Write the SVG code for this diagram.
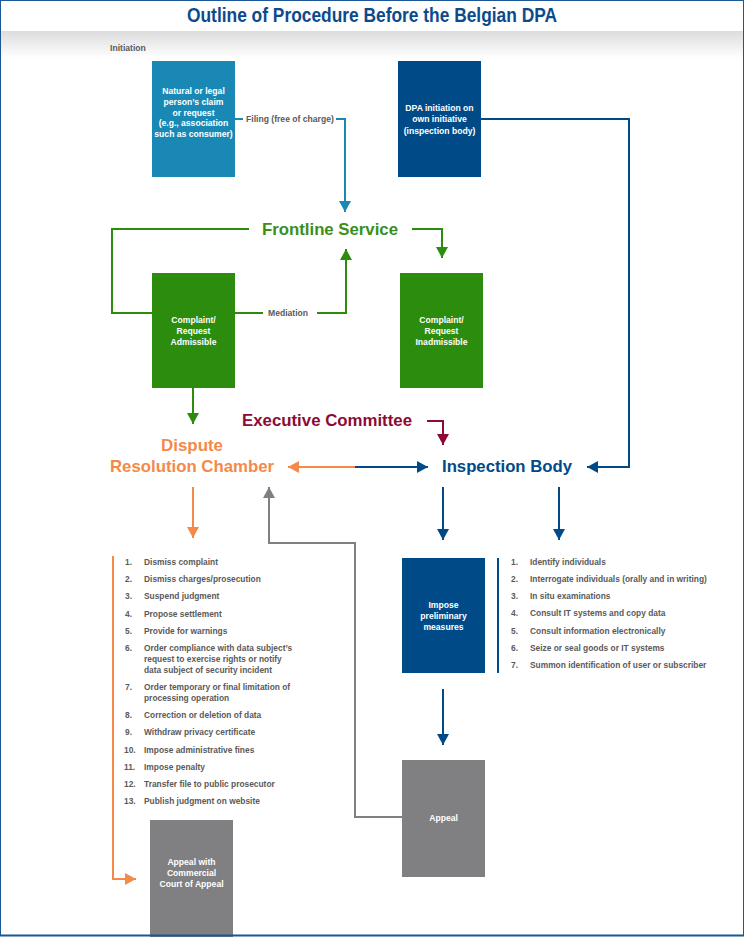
<svg xmlns="http://www.w3.org/2000/svg" width="744" height="937" viewBox="0 0 744 937">
<defs>
<linearGradient id="shadow" x1="0" y1="0" x2="0" y2="1">
<stop offset="0" stop-color="#dcdcdc"/>
<stop offset="1" stop-color="#ffffff"/>
</linearGradient>
<marker id="aTeal" markerUnits="userSpaceOnUse" markerWidth="12" markerHeight="12" refX="11" refY="6" orient="auto"><path d="M0,0 L11,6 L0,12 z" fill="#1a88b5"/></marker>
<marker id="aGreen" markerUnits="userSpaceOnUse" markerWidth="12" markerHeight="12" refX="11" refY="6" orient="auto"><path d="M0,0 L11,6 L0,12 z" fill="#2b8c0e"/></marker>
<marker id="aRed" markerUnits="userSpaceOnUse" markerWidth="12" markerHeight="12" refX="11" refY="6" orient="auto"><path d="M0,0 L11,6 L0,12 z" fill="#8c0a35"/></marker>
<marker id="aBlue" markerUnits="userSpaceOnUse" markerWidth="12" markerHeight="12" refX="11" refY="6" orient="auto"><path d="M0,0 L11,6 L0,12 z" fill="#004b87"/></marker>
<marker id="aOrange" markerUnits="userSpaceOnUse" markerWidth="12" markerHeight="12" refX="11" refY="6" orient="auto"><path d="M0,0 L11,6 L0,12 z" fill="#f38a4a"/></marker>
<marker id="aGray" markerUnits="userSpaceOnUse" markerWidth="12" markerHeight="12" refX="11" refY="6" orient="auto"><path d="M0,0 L11,6 L0,12 z" fill="#808083"/></marker>
</defs>
<style>
text{font-family:"Liberation Sans",Arial,sans-serif;font-weight:bold}
.box{font-size:8.6px;fill:#ffffff;text-anchor:middle}
.lbl{font-size:8.6px;fill:#5a5a5a}
.big{font-size:17px}
.ln{fill:none;stroke-width:2}
.li{font-size:8.4px;fill:#5a5a5a}
</style>
<rect x="0" y="0" width="744" height="937" fill="#ffffff"/>
<rect x="1" y="31" width="742" height="27" fill="url(#shadow)"/>
<text x="372" y="22" font-size="20" fill="#0d4a8c" text-anchor="middle" textLength="370" lengthAdjust="spacingAndGlyphs">Outline of Procedure Before the Belgian DPA</text>
<text x="110" y="51" class="lbl">Initiation</text>

<g id="connectors">
<path class="ln" stroke="#1a88b5" d="M235,119 H243"/>
<path class="ln" stroke="#1a88b5" d="M336,119 H345 V212" marker-end="url(#aTeal)"/>
<path class="ln" stroke="#004b87" d="M481,119 H629 V467 H587" marker-end="url(#aBlue)"/>
<path class="ln" stroke="#2b8c0e" d="M249,229 H112 V313 H152"/>
<path class="ln" stroke="#2b8c0e" d="M412,229 H442 V258" marker-end="url(#aGreen)"/>
<path class="ln" stroke="#2b8c0e" d="M235,313 H263"/>
<path class="ln" stroke="#2b8c0e" d="M317,313 H346 V249" marker-end="url(#aGreen)"/>
<path class="ln" stroke="#2b8c0e" d="M193,388 V424" marker-end="url(#aGreen)"/>
<path class="ln" stroke="#8c0a35" d="M427,421 H443 V445" marker-end="url(#aRed)"/>
<path class="ln" stroke="#f38a4a" d="M356,467 H288" marker-end="url(#aOrange)"/>
<path class="ln" stroke="#004b87" d="M355,467 H428" marker-end="url(#aBlue)"/>
<path class="ln" stroke="#f38a4a" d="M193,487 V538" marker-end="url(#aOrange)"/>
<path class="ln" stroke="#808083" d="M402,817 H355 V543 H269 V487" marker-end="url(#aGray)"/>
<path class="ln" stroke="#004b87" d="M443,487 V540" marker-end="url(#aBlue)"/>
<path class="ln" stroke="#004b87" d="M559,487 V540" marker-end="url(#aBlue)"/>
<path class="ln" stroke="#004b87" d="M443,689 V745" marker-end="url(#aBlue)"/>
<path class="ln" stroke="#f38a4a" d="M113,556 V879 H136" marker-end="url(#aOrange)"/>
<path class="ln" stroke="#004b87" d="M498,558 V673"/>
<text x="246" y="122" class="lbl">Filing (free of charge)</text>
<text x="268" y="316" class="lbl">Mediation</text>
</g>

<g id="node-claim">
<rect x="152" y="61" width="83" height="116" fill="#1a88b5"/>
<text class="box"><tspan x="193.5" y="94">Natural or legal</tspan><tspan x="193.5" y="105">person’s claim</tspan><tspan x="193.5" y="116">or request</tspan><tspan x="193.5" y="126">(e.g., association</tspan><tspan x="193.5" y="137">such as consumer)</tspan></text>
</g>
<g id="node-dpa">
<rect x="398" y="61" width="83" height="116" fill="#004b87"/>
<text class="box"><tspan x="439.5" y="111">DPA initiation on</tspan><tspan x="439.5" y="122">own initiative</tspan><tspan x="439.5" y="134">(inspection body)</tspan></text>
</g>
<g id="node-frontline">
<text x="262" y="235" class="big" fill="#3a8f1c" textLength="136" lengthAdjust="spacingAndGlyphs">Frontline Service</text>
</g>
<g id="node-admissible">
<rect x="152" y="273" width="83" height="115" fill="#2b8c0e"/>
<text class="box"><tspan x="193.5" y="323">Complaint/</tspan><tspan x="193.5" y="334">Request</tspan><tspan x="193.5" y="345">Admissible</tspan></text>
</g>
<g id="node-inadmissible">
<rect x="400" y="273" width="83" height="115" fill="#2b8c0e"/>
<text class="box"><tspan x="441.5" y="323">Complaint/</tspan><tspan x="441.5" y="334">Request</tspan><tspan x="441.5" y="345">Inadmissible</tspan></text>
</g>
<g id="node-executive">
<text x="242" y="426" class="big" fill="#8c0a35" textLength="170" lengthAdjust="spacingAndGlyphs">Executive Committee</text>
</g>
<g id="node-drc">
<text x="192" y="451" class="big" fill="#f38a4a" text-anchor="middle" textLength="62" lengthAdjust="spacingAndGlyphs">Dispute</text>
<text x="110" y="472" class="big" fill="#f38a4a" textLength="164" lengthAdjust="spacingAndGlyphs">Resolution Chamber</text>
</g>
<g id="node-inspection">
<text x="442" y="472" class="big" fill="#004b87" textLength="130" lengthAdjust="spacingAndGlyphs">Inspection Body</text>
</g>
<g id="node-drc-list">
<text class="li"><tspan x="125" y="565">1.</tspan><tspan x="125" y="582">2.</tspan><tspan x="125" y="599">3.</tspan><tspan x="125" y="617">4.</tspan><tspan x="125" y="634">5.</tspan><tspan x="125" y="651">6.</tspan><tspan x="125" y="690">7.</tspan><tspan x="125" y="718">8.</tspan><tspan x="125" y="735">9.</tspan><tspan x="124" y="753">10.</tspan><tspan x="124" y="770">11.</tspan><tspan x="124" y="787">12.</tspan><tspan x="124" y="804">13.</tspan></text>
<text class="li"><tspan x="144" y="565">Dismiss complaint</tspan><tspan x="144" y="582">Dismiss charges/prosecution</tspan><tspan x="144" y="599">Suspend judgment</tspan><tspan x="144" y="617">Propose settlement</tspan><tspan x="144" y="634">Provide for warnings</tspan><tspan x="144" y="651">Order compliance with data subject’s</tspan><tspan x="144" y="662">request to exercise rights or notify</tspan><tspan x="144" y="673">data subject of security incident</tspan><tspan x="144" y="690">Order temporary or final limitation of</tspan><tspan x="144" y="701">processing operation</tspan><tspan x="144" y="718">Correction or deletion of data</tspan><tspan x="144" y="735">Withdraw privacy certificate</tspan><tspan x="144" y="753">Impose administrative fines</tspan><tspan x="144" y="770">Impose penalty</tspan><tspan x="144" y="787">Transfer file to public prosecutor</tspan><tspan x="144" y="804">Publish judgment on website</tspan></text>
</g>
<g id="node-measures">
<rect x="402" y="558" width="83" height="115" fill="#004b87"/>
<text class="box"><tspan x="443.5" y="608">Impose</tspan><tspan x="443.5" y="619">preliminary</tspan><tspan x="443.5" y="630">measures</tspan></text>
</g>
<g id="node-inspection-list">
<text class="li"><tspan x="511" y="565">1.</tspan><tspan x="511" y="582">2.</tspan><tspan x="511" y="599">3.</tspan><tspan x="511" y="616">4.</tspan><tspan x="511" y="634">5.</tspan><tspan x="511" y="651">6.</tspan><tspan x="511" y="668">7.</tspan></text>
<text class="li"><tspan x="530" y="565">Identify individuals</tspan><tspan x="530" y="582">Interrogate individuals (orally and in writing)</tspan><tspan x="530" y="599">In situ examinations</tspan><tspan x="530" y="616">Consult IT systems and copy data</tspan><tspan x="530" y="634">Consult information electronically</tspan><tspan x="530" y="651">Seize or seal goods or IT systems</tspan><tspan x="530" y="668">Summon identification of user or subscriber</tspan></text>
</g>
<g id="node-appeal">
<rect x="402" y="760" width="83" height="117" fill="#808083"/>
<text class="box" x="443.5" y="821">Appeal</text>
</g>
<g id="node-commercial">
<rect x="150" y="820" width="83" height="117" fill="#808083"/>
<text class="box"><tspan x="191.5" y="865">Appeal with</tspan><tspan x="191.5" y="876">Commercial</tspan><tspan x="191.5" y="887">Court of Appeal</tspan></text>
</g>
<rect x="0.5" y="0.5" width="743" height="935" fill="none" stroke="#1b5796" stroke-width="1"/>
<line x1="0" y1="935.5" x2="744" y2="935.5" stroke="#1b5796" stroke-width="2"/>
</svg>
